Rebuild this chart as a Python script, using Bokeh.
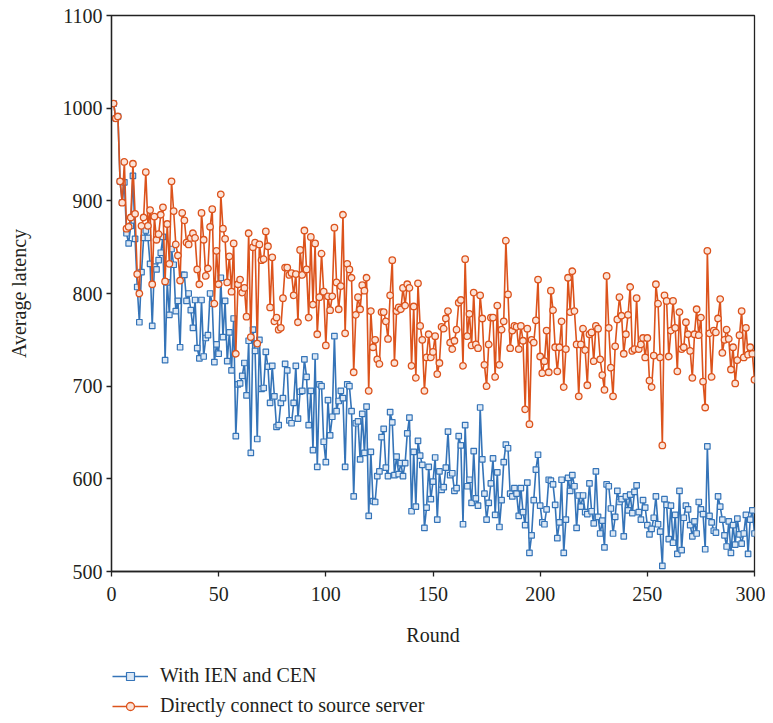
from bokeh.plotting import figure
from bokeh.layouts import column
from bokeh.models import Range1d, Legend, LegendItem, FixedTicker, ColumnDataSource
from bokeh.embed import file_html
from bokeh.resources import INLINE

rounds = list(range(1, 301))

ien_cen = [
    1005, 989, 991, 921, 898, 920, 865, 854, 873, 927, 859, 807, 769, 823, 860, 868, 860, 832, 765, 829,
    826, 836, 844, 861, 728, 812, 777, 848, 831, 781, 792, 742, 820, 820, 792, 800, 782, 763, 793, 741,
    730, 793, 732, 752, 755, 800, 789, 726, 745, 735,
    817, 753, 792, 727, 758, 717, 773, 646, 702, 703, 711, 725, 690, 749, 628, 761, 738, 643, 750, 697,
    698, 737, 721, 682, 722, 689, 656, 658, 682, 687, 724, 717, 663, 660, 682, 722, 665, 694, 695, 729,
    710, 658, 695, 631, 732, 613, 702, 700, 640, 618,
    685, 647, 667, 754, 673, 684, 695, 687, 613, 702, 700, 673, 581, 660, 662, 621, 670, 628, 678, 560,
    629, 576, 575, 603, 608, 645, 654, 612, 603, 672, 661, 604, 624, 605, 617, 603, 617, 649, 666, 565,
    629, 570, 641, 625, 615, 547, 569, 613, 578, 597,
    623, 556, 608, 588, 591, 612, 651, 604, 606, 587, 590, 646, 636, 551, 658, 592, 599, 574, 630, 579,
    571, 677, 621, 584, 556, 574, 595, 622, 561, 607, 548, 577, 618, 637, 633, 584, 581, 590, 584, 560,
    590, 564, 550, 596, 520, 539, 577, 610, 626, 571,
    553, 551, 567, 599, 598, 594, 572, 536, 553, 599, 520, 556, 601, 587, 604, 592, 547, 582, 570, 582,
    564, 562, 595, 565, 552, 608, 559, 541, 555, 526, 594, 592, 568, 541, 559, 587, 575, 578, 538, 581,
    566, 583, 563, 586, 593, 564, 556, 577, 569, 550,
    540, 546, 558, 581, 551, 543, 506, 578, 572, 535, 571, 531, 561, 519, 587, 523, 558, 571, 567, 550,
    538, 554, 541, 575, 567, 562, 524, 635, 560, 553, 544, 542, 581, 570, 556, 539, 527, 554, 520, 550,
    529, 557, 540, 530, 541, 561, 519, 556, 566, 541,
]

direct = [
    1005, 989, 991, 921, 898, 942, 870, 872, 882, 940, 886, 821, 800, 873, 882, 931, 873, 890, 810, 883,
    858, 864, 885, 893, 813, 875, 832, 921, 889, 853, 841, 814, 887, 879, 855, 853, 860, 865, 860, 826,
    810, 887, 858, 819, 827, 872, 891, 789, 846, 810,
    907, 870, 859, 812, 840, 802, 854, 735, 810, 815, 801, 806, 775, 865, 753, 850, 855, 746, 853, 836,
    837, 867, 851, 785, 839, 770, 774, 761, 763, 795, 828, 828, 820, 822, 798, 821, 769, 847, 820, 868,
    826, 774, 861, 788, 854, 756, 796, 843, 802, 744,
    797, 782, 797, 871, 812, 783, 808, 885, 757, 832, 826, 817, 715, 777, 796, 783, 809, 803, 817, 695,
    781, 742, 750, 729, 724, 780, 780, 770, 751, 798, 836, 725, 781, 785, 783, 806, 787, 810, 806, 722,
    786, 709, 811, 765, 750, 695, 731, 756, 731, 737,
    754, 713, 725, 764, 762, 773, 781, 747, 740, 749, 761, 790, 793, 722, 837, 754, 778, 744, 801, 745,
    741, 798, 773, 723, 700, 745, 774, 774, 710, 787, 723, 761, 770, 857, 799, 741, 760, 765, 764, 740,
    765, 749, 675, 762, 659, 750, 747, 771, 815, 732,
    714, 727, 760, 715, 803, 782, 742, 716, 742, 770, 699, 740, 817, 780, 824, 781, 745, 689, 745, 762,
    739, 701, 756, 758, 727, 765, 762, 729, 712, 696, 819, 763, 720, 689, 743, 772, 796, 776, 735, 756,
    777, 807, 738, 740, 795, 740, 745, 752, 731, 752,
    706, 699, 733, 810, 789, 731, 636, 798, 792, 732, 760, 792, 763, 716, 780, 740, 742, 769, 756, 738,
    709, 756, 783, 755, 774, 705, 677, 846, 757, 710, 760, 758, 773, 794, 736, 750, 761, 751, 718, 742,
    703, 728, 755, 781, 731, 763, 734, 742, 735, 707,
]

x_ticks = [0, 50, 100, 150, 200, 250, 300]
y_ticks = [500, 600, 700, 800, 900, 1000, 1100]
series_names = ["With IEN and CEN", "Directly connect to source server"]

BLUE = "#3574b8"
ORANGE = "#dc531c"
BLUE_FILL = "#dce8f5"
ORANGE_FILL = "#fbe3d8"
FONT = "Liberation Serif"
TEXT = "#231f20"

p = figure(
    width=765, height=656,
    x_range=Range1d(0, 300), y_range=Range1d(500, 1100),
    output_backend="svg", toolbar_location=None,
    min_border_left=111, min_border_right=11, min_border_top=15, min_border_bottom=85,
)
p.background_fill_color = "white"
p.border_fill_color = "white"
p.grid.visible = False
p.outline_line_color = "#222222"
p.outline_line_width = 1.3

for ax in (p.xaxis[0], p.yaxis[0]):
    ax.axis_line_color = "#222222"
    ax.axis_line_width = 1.3
    ax.major_tick_line_color = "#222222"
    ax.major_tick_line_width = 1.3
    ax.major_tick_out = 5
    ax.major_tick_in = 0
    ax.minor_tick_line_color = None
    ax.major_label_text_font = FONT
    ax.major_label_text_font_size = "20px"
    ax.major_label_text_color = TEXT
    ax.axis_label_text_font = FONT
    ax.axis_label_text_font_size = "20px"
    ax.axis_label_text_font_style = "normal"
    ax.axis_label_text_color = TEXT

p.xaxis.ticker = FixedTicker(ticks=x_ticks)
p.yaxis.ticker = FixedTicker(ticks=y_ticks)
p.xaxis.axis_label = "Round"
p.yaxis.axis_label = "Average latency"
p.xaxis.major_label_standoff = 10
p.yaxis.major_label_standoff = 4
p.xaxis.axis_label_standoff = 20
p.yaxis.axis_label_standoff = 30

src_b = ColumnDataSource(dict(x=rounds, y=ien_cen))
src_o = ColumnDataSource(dict(x=rounds, y=direct))

p.line("x", "y", source=src_b, line_color=BLUE, line_width=1.6)
p.scatter("x", "y", source=src_b, marker="square", size=5.5, line_color=BLUE,
          fill_color=BLUE_FILL, line_width=1.2)
p.line("x", "y", source=src_o, line_color=ORANGE, line_width=1.6)
p.scatter("x", "y", source=src_o, marker="circle", size=6.5, line_color=ORANGE,
          fill_color=ORANGE_FILL, line_width=1.3)

# legend strip below the chart
p2 = figure(
    width=765, height=62, x_range=Range1d(0, 1), y_range=Range1d(0, 1),
    x_axis_type=None, y_axis_type=None,
    output_backend="svg", toolbar_location=None, min_border=0,
)
p2.outline_line_color = None
p2.background_fill_color = "white"
p2.border_fill_color = "white"
lb = p2.line([-5, -4], [-5, -4], line_color=BLUE, line_width=1.6)
mb = p2.scatter([-5], [-5], marker="square", size=5.5, line_color=BLUE,
                fill_color=BLUE_FILL, line_width=1.2)
lo = p2.line([-5, -4], [-5, -4], line_color=ORANGE, line_width=1.6)
mo = p2.scatter([-5], [-5], marker="circle", size=6.5, line_color=ORANGE,
                fill_color=ORANGE_FILL, line_width=1.3)

legend = Legend(
    items=[LegendItem(label=series_names[0], renderers=[lb, mb]),
           LegendItem(label=series_names[1], renderers=[lo, mo])],
    location=(1, 1),
    orientation="vertical",
    glyph_width=36, glyph_height=20, label_height=20, spacing=7,
    label_standoff=12, padding=0, margin=0,
    border_line_alpha=0, background_fill_alpha=0,
    label_text_font=FONT, label_text_font_size="20px", label_text_color=TEXT,
)
p2.add_layout(legend, "center")

layout = column(p, p2, spacing=0)
open("out.html", "w").write(file_html(layout, INLINE))
